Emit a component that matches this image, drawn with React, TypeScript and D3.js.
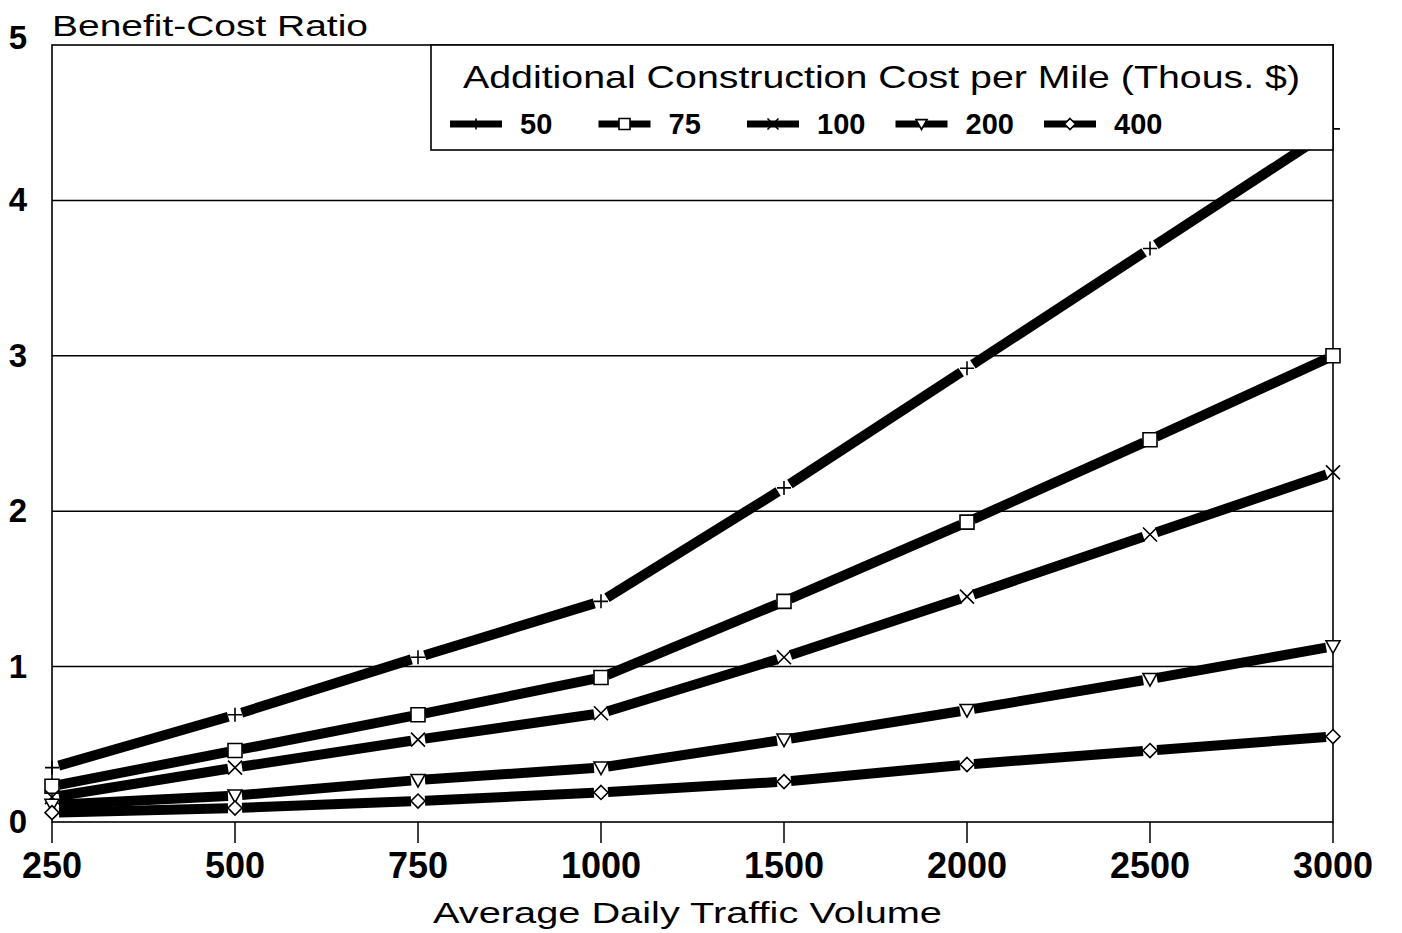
import React from "react";
import * as d3 from "d3";

// traffic volume categories (equally spaced on the chart)
const volumes = ["250", "500", "750", "1000", "1500", "2000", "2500", "3000"];

// benefit-cost ratio per additional construction cost (thous. $ per mile)
const bc50 = [0.35, 0.69, 1.06, 1.42, 2.15, 2.92, 3.69, 4.46];
const bc75 = [0.23, 0.46, 0.69, 0.93, 1.42, 1.93, 2.46, 3.0];
const bc100 = [0.16, 0.35, 0.53, 0.7, 1.06, 1.45, 1.85, 2.25];
const bc200 = [0.11, 0.17, 0.27, 0.35, 0.53, 0.72, 0.92, 1.13];
const bc400 = [0.06, 0.09, 0.135, 0.19, 0.26, 0.37, 0.46, 0.55];

const seriesNames = ["50", "75", "100", "200", "400"];
const seriesValues = [bc50, bc75, bc100, bc200, bc400];
const markerKinds = ["plus", "square", "cross", "triangle", "diamond"];

const yTicks = [0, 1, 2, 3, 4, 5];

const W = 1402;
const H = 933;
const left = 52;
const right = 1333;
const top = 45;
const bottom = 822;

const boldFont = "'Liberation Sans', Arial, sans-serif";
const lightFont = "'Liberation Sans', Arial, sans-serif";

const markerPath = (kind: string, s: number) => {
  const h = s / 2;
  switch (kind) {
    case "plus":
      return `M${-h},0L${h},0M0,${-h}L0,${h}`;
    case "square":
      return `M${-h},${-h}L${h},${-h}L${h},${h}L${-h},${h}Z`;
    case "cross":
      return `M${-h},${-h}L${h},${h}M${-h},${h}L${h},${-h}`;
    case "triangle":
      return `M${-h},${-h * 0.8}L${h},${-h * 0.8}L0,${h}Z`;
    default:
      return `M0,${-h}L${h},0L0,${h}L${-h},0Z`;
  }
};

const Marker = ({ kind, x, y, s }: { kind: string; x: number; y: number; s: number }) => (
  <path
    d={markerPath(kind, s)}
    transform={`translate(${x},${y})`}
    fill="white"
    stroke="black"
    strokeWidth={1.6}
  />
);

export default function App() {
  const x = d3.scalePoint<string>().domain(volumes).range([left, right]);
  const y = d3.scaleLinear().domain([0, 5]).range([bottom, top]);

  // segments between points, cut short so the marker sits in a gap
  const gap = 7;
  const segments = (vals: number[]) => {
    const out: string[] = [];
    for (let i = 0; i < vals.length - 1; i++) {
      const x0 = x(volumes[i])!, y0 = y(vals[i]);
      const x1 = x(volumes[i + 1])!, y1 = y(vals[i + 1]);
      const len = Math.hypot(x1 - x0, y1 - y0);
      const ux = (x1 - x0) / len, uy = (y1 - y0) / len;
      out.push(
        d3.line()([
          [x0 + ux * gap, y0 + uy * gap],
          [x1 - ux * gap, y1 - uy * gap],
        ])!
      );
    }
    return out;
  };

  const legendX0 = 450;
  const legendStep = 148.5;
  const legendY = 124;

  return (
    <svg
      width={W}
      height={H}
      style={{ position: "absolute", left: 0, top: 0, background: "white" }}
    >
      <rect width={W} height={H} fill="white" />

      {/* grid lines */}
      {yTicks.slice(1, 5).map((t) => (
        <line key={t} x1={left} x2={right} y1={y(t)} y2={y(t)} stroke="black" strokeWidth={1.5} />
      ))}

      {/* frame */}
      <rect x={left} y={top} width={right - left} height={bottom - top} fill="none" stroke="black" strokeWidth={1.6} />

      {/* x ticks */}
      {volumes.map((v) => (
        <line key={v} x1={x(v)} x2={x(v)} y1={bottom} y2={bottom + 21} stroke="black" strokeWidth={1.5} />
      ))}

      {/* series */}
      {seriesValues.map((vals, si) => (
        <g key={seriesNames[si]}>
          {segments(vals).map((d, i) => (
            <path key={i} d={d} fill="none" stroke="black" strokeWidth={10} />
          ))}
          {vals.map((v, i) => (
            <Marker key={i} kind={markerKinds[si]} x={x(volumes[i])!} y={y(v)} s={14} />
          ))}
        </g>
      ))}

      {/* legend box */}
      <rect x={431} y={top} width={right - 431} height={105} fill="white" stroke="black" strokeWidth={1.6} />
      <text
        x={463}
        y={88}
        fontFamily={lightFont}
        fontSize={32}
        textLength={837}
        lengthAdjust="spacingAndGlyphs"
      >
        Additional Construction Cost per Mile (Thous. $)
      </text>
      {seriesNames.map((name, i) => {
        const lx = legendX0 + i * legendStep;
        return (
          <g key={name}>
            <line x1={lx} x2={lx + 52} y1={legendY} y2={legendY} stroke="black" strokeWidth={7} />
            <Marker kind={markerKinds[i]} x={lx + 26} y={legendY} s={11} />
            <text x={lx + 70} y={legendY + 10} fontFamily={boldFont} fontWeight="bold" fontSize={29}>
              {name}
            </text>
          </g>
        );
      })}

      {/* y tick labels */}
      {yTicks.map((t) => (
        <text
          key={t}
          x={18}
          y={y(t) + 8}
          textAnchor="middle"
          fontFamily={boldFont}
          fontWeight="bold"
          fontSize={33}
          dy={t === 5 ? -4 : 3}
        >
          {t}
        </text>
      ))}

      {/* x tick labels */}
      {volumes.map((v) => (
        <text
          key={v}
          x={x(v)}
          y={878}
          textAnchor="middle"
          fontFamily={boldFont}
          fontWeight="bold"
          fontSize={36}
        >
          {v}
        </text>
      ))}

      {/* axis titles */}
      <text x={52} y={36} fontFamily={lightFont} fontSize={30} textLength={316} lengthAdjust="spacingAndGlyphs">
        Benefit-Cost Ratio
      </text>
      <text x={433} y={923} fontFamily={lightFont} fontSize={30} textLength={509} lengthAdjust="spacingAndGlyphs">
        Average Daily Traffic Volume
      </text>
    </svg>
  );
}
